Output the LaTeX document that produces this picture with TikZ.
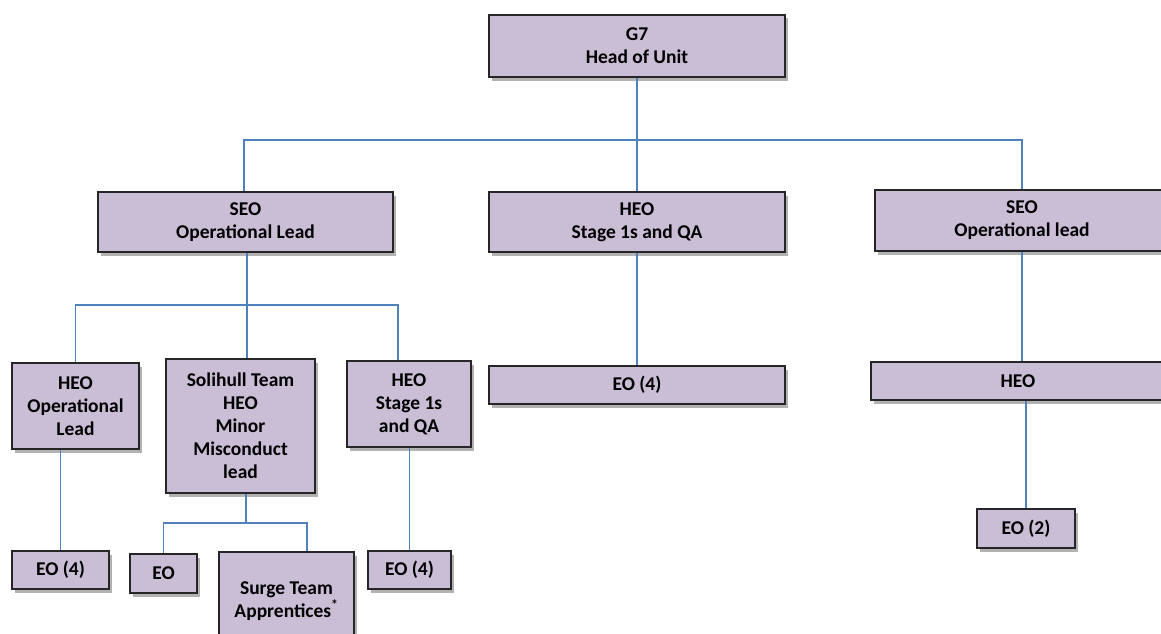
\documentclass[tikz,border=0pt]{standalone}
\usepackage{fontspec}
\setmainfont{Carlito}
\usetikzlibrary{shadows}
\definecolor{boxfill}{RGB}{202,189,214}
\definecolor{boxline}{RGB}{38,38,38}
\definecolor{linkblue}{RGB}{79,129,189}
\tikzset{every picture/.style={line width=0.75pt}}

\begin{document}
\begin{tikzpicture}[x=1pt,y=-1pt,
  box/.style={draw=boxline,fill=boxfill,line width=1.6pt,inner sep=1pt,align=center,
    font=\fontsize{19.5}{23}\selectfont\bfseries,
    drop shadow={shadow xshift=3pt,shadow yshift=-3.5pt,fill=black,opacity=0.3}},
  link/.style={draw=linkblue,line width=1.1pt}]
\useasboundingbox (0,0) rectangle (1161,634);
\clip (0,0) rectangle (1161,634);

% Top level
\node [box,minimum width=296,minimum height=62] (g7) at (637,46) {G7\\Head of Unit};

% Second level
\node [box,minimum width=295,minimum height=60] (seoL) at (245.5,222) {SEO\\Operational Lead};
\node [box,minimum width=296,minimum height=60] (heoM) at (637,222) {HEO\\Stage 1s and QA};
\node [box,minimum width=294,minimum height=61] (seoR) at (1022,220.5) {SEO\\Operational lead};

% Third level
\node [box,minimum width=127,minimum height=86] (heoOp) at (75.5,406) {HEO\\Operational\\Lead};
\node [box,minimum width=149,minimum height=134] (soli) at (240.5,426) {Solihull Team\\HEO\\Minor\\Misconduct\\lead};
\node [box,minimum width=124,minimum height=86] (heoSt) at (409,404) {HEO\\Stage 1s\\and QA};
\node [box,minimum width=296,minimum height=38] (eoM) at (637,385) {EO (4)};
\node [box,minimum width=294,minimum height=38] (heoR) at (1018,381) {HEO};

% Bottom level
\node [box,minimum width=97,minimum height=38] (eoA) at (60.5,570) {EO (4)};
\node [box,minimum width=67,minimum height=39] (eoB) at (163.5,573.5) {EO};
\node [box,minimum width=135,minimum height=98] (surge) at (286.5,601) {Surge Team\\Apprentices\textsuperscript{*}};
\node [box,minimum width=83,minimum height=38] (eoC) at (409.5,570) {EO (4)};
\node [box,minimum width=98,minimum height=39] (eo2) at (1026,528.5) {EO (2)};

% Bus points
\coordinate (busTop) at (637,140);
\coordinate (busL) at (247,305);
\coordinate (busS) at (246,523);

% Connectors
\draw [link] (g7.south) -- (heoM.north);
\draw [link] ([xshift=-1.5]seoL.north) |- (busTop) -| (seoR.north);
\draw [link] (seoL.south -| busL) -- (busL);
\draw [link] (heoOp.north) |- (busL) -| ([xshift=-11]heoSt.north);
\draw [link] (busL) -- (busL |- soli.north);
\draw [link] (heoM.south) -- (eoM.north);
\draw [link] (seoR.south) -- (seoR.south |- heoR.north);
\draw [link] (eo2.north) -- (eo2.north |- heoR.south);
\draw [link] (eoA.north) -- (eoA.north |- heoOp.south);
\draw [link] (soli.south -| busS) -- (busS);
\draw [link] (eoB.north) |- (busS) -| ([xshift=20.5]surge.north);
\draw [link] (heoSt.south -| eoC.north) -- (eoC.north);

\end{tikzpicture}
\end{document}
